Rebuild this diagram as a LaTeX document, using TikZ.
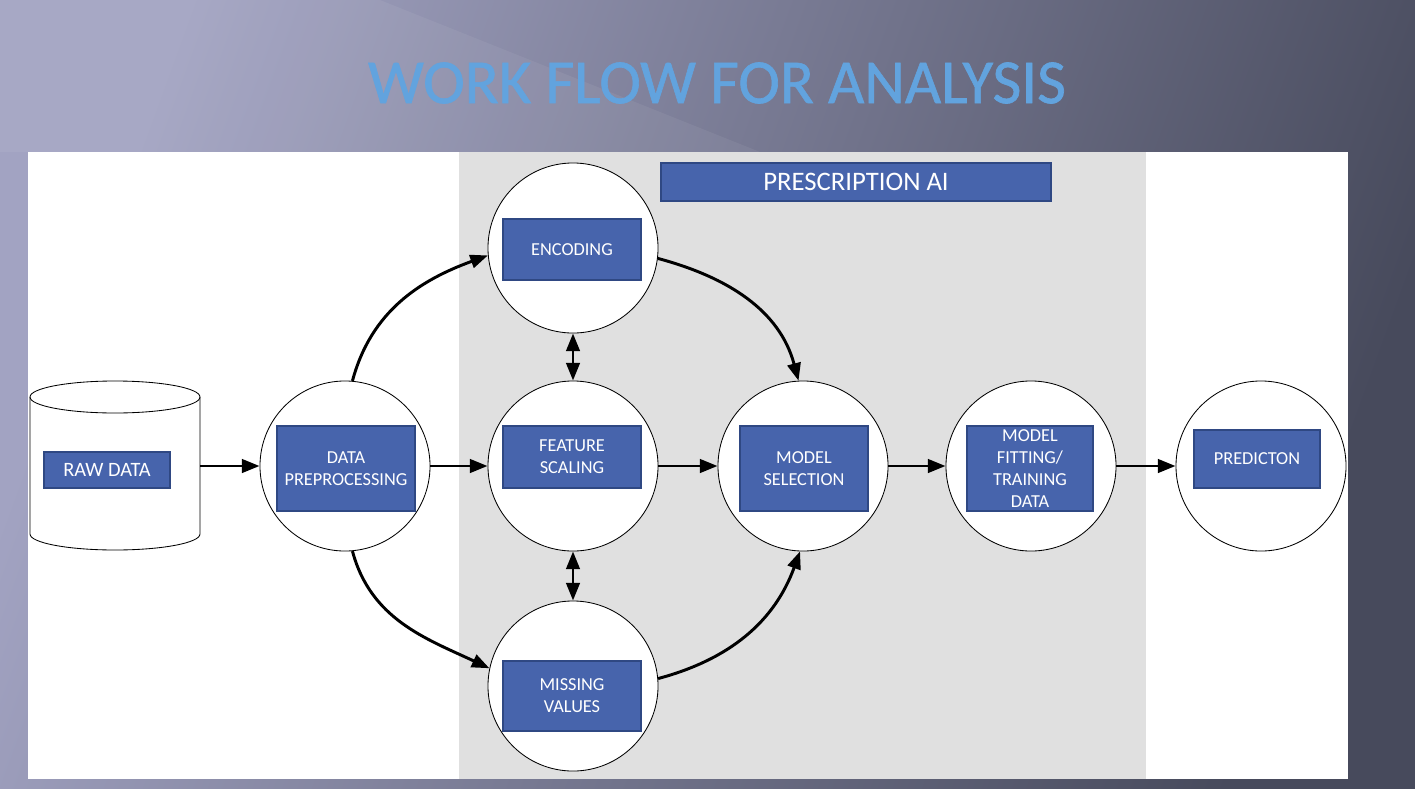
\documentclass[tikz,border=0pt]{standalone}
\usepackage{fontspec}
\setmainfont{Carlito}
\newfontfamily\titlefont[FakeBold=1]{Carlito}
\usepackage{xcolor}
\usetikzlibrary{arrows.meta}
\definecolor{boxblue}{HTML}{4764AC}
\definecolor{boxedge}{HTML}{2F4883}
\definecolor{titleblue}{HTML}{62A3DE}
\definecolor{panelgrey}{HTML}{E0E0E0}
\definecolor{bgleft}{HTML}{A2A3C2}
\definecolor{bgright}{HTML}{474A5C}

\begin{document}
\begin{tikzpicture}[x=0.025cm,y=-0.025cm,>={Triangle[length=12.5pt,width=9.5pt]},
    stage/.style={circle,draw,fill=white,line width=0.6pt,minimum size=4.25cm,inner sep=0pt},
    labelbox/.style={draw=boxedge,fill=boxblue,text=white,line width=1pt,align=center,inner sep=0pt,
      font=\fontsize{13}{15.5}\selectfont},
    flow/.style={->,line width=2.1pt}]
      \useasboundingbox (0,0) rectangle (1415,789);
      \shade[left color=bgleft,right color=bgright,shading angle=70] (0,0) rectangle (1415,789);
      \fill[white,opacity=0.06] (0,0) -- (380,0) -- (760,152) -- (0,152) -- cycle;

      \node[font=\titlefont\fontsize{44.6}{50}\selectfont,text=titleblue] (title) at (717,83) {WORK FLOW FOR ANALYSIS};

      \fill[white] (28,152) rectangle (1348,779);
      \fill[panelgrey] (459,152) rectangle (1146,779);

      \node[labelbox,minimum width=9.75cm,minimum height=0.95cm,font=\fontsize{19}{22}\selectfont] (ai) at (856,182) {PRESCRIPTION AI};

      \draw[line width=0.6pt,fill=white] (30,397) -- (30,534) arc[start angle=180,end angle=360,x radius=85,y radius=-16]
        -- (200,397) arc[start angle=0,end angle=180,x radius=85,y radius=-16] -- cycle;
      \draw[line width=0.6pt] (30,397) arc[start angle=180,end angle=360,x radius=85,y radius=-16];
      \coordinate (raw) at (200,466);
      \node[labelbox,minimum width=3.15cm,minimum height=0.9cm,font=\fontsize{14.5}{17}\selectfont] (rawb) at (107,470) {RAW DATA};

      \node[stage] (prep) at (345,466) {};
      \node[stage] (enc) at (573,248) {};
      \node[stage] (scale) at (573,466) {};
      \node[stage] (miss) at (573,686) {};
      \node[stage] (select) at (803,466) {};
      \node[stage] (fit) at (1031,466) {};
      \node[stage] (pred) at (1261,466) {};

      \node[labelbox,minimum width=3.45cm,minimum height=2.125cm] (prepb) at (346,468.5) {DATA\\PREPROCESSING};
      \node[labelbox,minimum width=3.45cm,minimum height=1.525cm] (encb) at (572,249.5) {ENCODING};
      \node[labelbox,minimum width=3.45cm,minimum height=1.55cm] (scaleb) at (572,457) {FEATURE\\SCALING};
      \node[labelbox,minimum width=3.45cm,minimum height=1.75cm] (missb) at (572,696) {MISSING\\VALUES};
      \node[labelbox,minimum width=3.2cm,minimum height=2.125cm] (selectb) at (804,468.5) {MODEL\\SELECTION};
      \node[labelbox,minimum width=3.15cm,minimum height=2.125cm] (fitb) at (1030,468.5) {MODEL\\FITTING/\\TRAINING\\DATA};
      \node[labelbox,minimum width=3.15cm,minimum height=1.45cm] (predb) at (1257,459) {PREDICTON};

      \draw[flow] (raw) -- (prep);
      \draw[flow] (prep) -- (scale);
      \draw[flow] (scale) -- (select);
      \draw[flow] (select) -- (fit);
      \draw[flow] (fit) -- (pred);

      \draw[flow] (prep.85) to[out=75,in=200] (enc.185);
      \draw[flow] (prep.275) to[out=-75,in=155] (miss.168);
      \draw[flow] (enc.353) to[out=-15,in=105] (select.93);
      \draw[flow] (miss.5) to[out=15,in=250] (select.268);

      \draw[flow,<->] (enc) -- (scale);
      \draw[flow,<->] (scale) -- (miss);
    \end{tikzpicture}
\end{document}
